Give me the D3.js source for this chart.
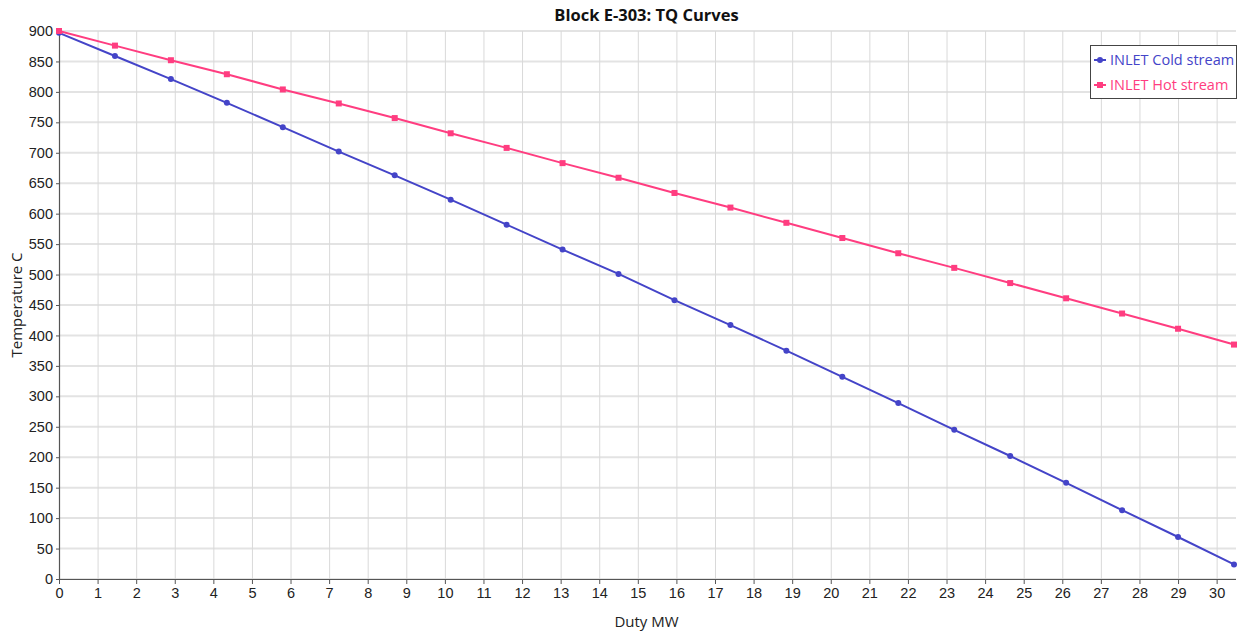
<!DOCTYPE html>
<html><head><meta charset="utf-8">
<script src="https://cdn.jsdelivr.net/npm/d3@7"></script>
<style>
body{margin:0;background:#fff;}
svg{display:block;font-family:"Segoe UI","Open Sans","Noto Sans",sans-serif;}
</style></head>
<body><svg id="c" width="1239" height="632"></svg>
<script>
const duty = [0, 1.45, 2.9, 4.35, 5.8, 7.25, 8.7, 10.15, 11.6, 13.05, 14.5, 15.95, 17.4, 18.85, 20.3, 21.75, 23.2, 24.65, 26.1, 27.55, 29.0, 30.45];
const coldStream = [897, 859, 821, 782, 742, 702, 663, 623, 582, 541, 501, 458, 417, 375, 332, 289, 245, 202, 158, 113, 69, 24];
const hotStream = [900, 876, 852, 829, 804, 781, 757, 732, 708, 683, 659, 634, 610, 585, 560, 535, 511, 486, 461, 436, 411, 385];
const xTicks = [0,1,2,3,4,5,6,7,8,9,10,11,12,13,14,15,16,17,18,19,20,21,22,23,24,25,26,27,28,29,30];
const yTicks = [0,50,100,150,200,250,300,350,400,450,500,550,600,650,700,750,800,850,900];
const seriesNames = ["INLET Cold stream","INLET Hot stream"];
const titleText = "Block E-303: TQ Curves";
const xLabel = "Duty MW", yLabel = "Temperature C";

const m = {l:59, r:1234, t:31, b:579};
const svg = d3.select("#c");
const x = d3.scaleLinear().domain([0,30.45]).range([m.l,m.r]);
const y = d3.scaleLinear().domain([0,900]).range([m.b,m.t]);

const cold = "#4444c8", hot = "#ff3d80";

// grid
svg.append("g").selectAll("line").data(yTicks).join("line")
  .attr("x1",m.l).attr("x2",m.r+2).attr("y1",d=>y(d)).attr("y2",d=>y(d))
  .attr("stroke","#e3e3e3").attr("stroke-width",2);
svg.append("g").selectAll("line").data(xTicks).join("line")
  .attr("y1",m.t).attr("y2",m.b).attr("x1",d=>x(d)+0.5).attr("x2",d=>x(d)+0.5)
  .attr("stroke","#d9d9d9").attr("stroke-width",1);

// axes
const xa = svg.append("g").attr("transform",`translate(0,${m.b})`)
  .call(d3.axisBottom(x).tickValues(xTicks).tickSize(5).tickSizeOuter(0).tickPadding(4));
const ya = svg.append("g").attr("transform",`translate(${m.l},0)`)
  .call(d3.axisLeft(y).tickValues(yTicks).tickSize(3).tickSizeOuter(0).tickPadding(3));
[xa,ya].forEach(a=>{
  a.select(".domain").attr("stroke","#555").attr("stroke-width",1.2);
  a.selectAll(".tick line").attr("stroke","#555");
  a.selectAll("text").attr("fill","#222").style("font-size","14.5px").style("font-family","inherit");
});
ya.select(".domain").attr("d",`M0.5,${m.t-1}V${m.b}`);
xa.select(".domain").attr("d",`M${m.l},0.5H${m.r+2}`);

// lines
const line = d3.line().x(d=>x(d[0])).y(d=>y(d[1]));
const coldData = duty.map((d,i)=>[d,coldStream[i]]);
const hotData = duty.map((d,i)=>[d,hotStream[i]]);
svg.append("path").datum(coldData).attr("d",line).attr("fill","none").attr("stroke",cold).attr("stroke-width",2);
svg.append("path").datum(hotData).attr("d",line).attr("fill","none").attr("stroke",hot).attr("stroke-width",2);
svg.append("g").selectAll("circle").data(coldData).join("circle")
  .attr("cx",d=>x(d[0])).attr("cy",d=>y(d[1])).attr("r",3).attr("fill",cold);
svg.append("g").selectAll("rect").data(hotData).join("rect")
  .attr("x",d=>x(d[0])-3).attr("y",d=>y(d[1])-3).attr("width",6).attr("height",6).attr("fill",hot);

// title & labels
svg.append("text").attr("x",(m.l+m.r)/2).attr("y",21).attr("text-anchor","middle")
  .style("font-size","16.5px").style("font-weight","bold").attr("fill","#111").text(titleText);
svg.append("text").attr("x",(m.l+m.r)/2).attr("y",627).attr("text-anchor","middle")
  .style("font-size","15px").attr("fill","#222").text(xLabel);
svg.append("text").attr("transform",`translate(22,${(m.t+m.b)/2}) rotate(-90)`).attr("text-anchor","middle")
  .style("font-size","15px").attr("fill","#222").text(yLabel);

// legend
const lg = svg.append("g").attr("transform","translate(1090,45)");
lg.append("rect").attr("x",0.5).attr("y",0.5).attr("width",146).attr("height",53)
  .attr("fill","#fff").attr("stroke","#444");
const cols=[cold,hot];
seriesNames.forEach((n,i)=>{
  const cy = 15 + i*25;
  lg.append("line").attr("x1",4).attr("x2",16).attr("y1",cy).attr("y2",cy).attr("stroke",cols[i]).attr("stroke-width",2);
  if(i===0) lg.append("circle").attr("cx",10).attr("cy",cy).attr("r",3).attr("fill",cols[i]);
  else lg.append("rect").attr("x",7).attr("y",cy-3).attr("width",6).attr("height",6).attr("fill",cols[i]);
  lg.append("text").attr("x",20).attr("y",cy+5).style("font-size","14.5px").attr("fill",cols[i]).text(n);
});
</script></body></html>
